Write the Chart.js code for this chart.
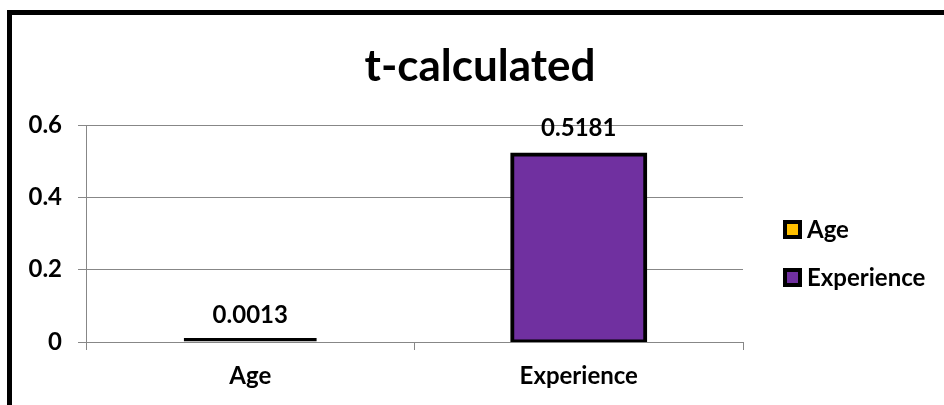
<!DOCTYPE html>
<html>
<head>
<meta charset="utf-8">
<script src="https://cdn.jsdelivr.net/npm/chart.js@4.4.0/dist/chart.umd.min.js"></script>
<style>
  html, body { margin: 0; padding: 0; background: #fff; overflow: hidden; }
  #wrap { position: relative; width: 944px; height: 405px; }
  #frame { position: absolute; left: 7px; top: 10px; width: 1000px; height: 500px; border: 5px solid #000; box-sizing: border-box; pointer-events: none; }
  canvas { position: absolute; left: 0; top: 0; }
</style>
</head>
<body>
<div id="wrap">
  <canvas id="c" width="944" height="405"></canvas>
  <div id="frame"></div>
</div>
<script>
const chartTitle = 't-calculated';
const categories = ['Age', 'Experience'];
const seriesNames = ['Age', 'Experience'];
const ageValues = [0.0013, null];
const experienceValues = [null, 0.5181];
const valueLabels = ['0.0013', '0.5181'];
const yTicks = [0, 0.2, 0.4, 0.6];
const seriesColors = ['#FFC000', '#7030A0'];

const FONT = 'Lato, "Open Sans", sans-serif';

const extrasPlugin = {
  id: 'extras',
  afterDatasetsDraw(chart) {
    const ctx = chart.ctx;
    ctx.save();
    // title
    ctx.fillStyle = '#000';
    ctx.font = 'bold 44px ' + FONT;
    ctx.textAlign = 'center';
    ctx.textBaseline = 'middle';
    ctx.fillText(chartTitle, 480, 67);
    // data labels
    ctx.font = 'bold 24px ' + FONT;
    chart.data.datasets.forEach((ds, di) => {
      const meta = chart.getDatasetMeta(di);
      meta.data.forEach((bar, i) => {
        if (ds.data[i] == null) return;
        const yTop = chart.scales.y.getPixelForValue(ds.data[i]);
        ctx.fillText(valueLabels[di], bar.x, yTop - 26);
      });
    });
    // legend
    ctx.textAlign = 'left';
    const legY = [229, 277];
    chart.data.datasets.forEach((ds, di) => {
      const x = 783, y = legY[di];
      ctx.fillStyle = '#000';
      ctx.fillRect(x, y - 9, 19, 19);
      ctx.fillStyle = ds.backgroundColor;
      ctx.fillRect(x + 4, y - 5, 11, 11);
      ctx.fillStyle = '#000';
      ctx.font = 'bold 24px ' + FONT;
      ctx.fillText(ds.label, x + 24, y + 1);
    });
    ctx.restore();
  }
};

new Chart(document.getElementById('c'), {
  type: 'bar',
  data: {
    labels: categories,
    datasets: [
      { label: seriesNames[0], data: ageValues, backgroundColor: seriesColors[0], borderColor: '#000',
        borderWidth: 4, borderSkipped: false, inflateAmount: 0, minBarLength: 4 },
      { label: seriesNames[1], data: experienceValues, backgroundColor: seriesColors[1], borderColor: '#000',
        borderWidth: 4, borderSkipped: false, inflateAmount: 2 }
    ]
  },
  options: {
    responsive: false,
    animation: false,
    devicePixelRatio: 1,
    skipNull: true,
    barPercentage: 0.405,
    categoryPercentage: 1,
    layout: { padding: { left: 0, right: 201, top: 125, bottom: 0 } },
    plugins: {
      legend: { display: false },
      title: { display: false },
      tooltip: { enabled: false }
    },
    scales: {
      x: {
        offset: true,
        grid: { display: true, drawOnChartArea: false, drawTicks: true, tickLength: 8, color: '#878787', offset: true },
        border: { display: true, color: '#878787', width: 1 },
        ticks: { color: '#000', font: { family: FONT, size: 24, weight: 'bold' }, padding: 12 },
        afterFit(scale) { scale.height = 63; }
      },
      y: {
        min: 0, max: 0.6,
        afterBuildTicks(scale) { scale.ticks = yTicks.map(v => ({ value: v })); },
        grid: { color: '#878787', tickLength: 8, drawTicks: true },
        border: { display: true, color: '#878787', width: 1 },
        ticks: { color: '#000', font: { family: FONT, size: 24, weight: 'bold' }, padding: 16,
                 callback: v => String(v) },
        afterFit(scale) { scale.width = 86; }
      }
    }
  },
  plugins: [extrasPlugin]
});
</script>
</body>
</html>
